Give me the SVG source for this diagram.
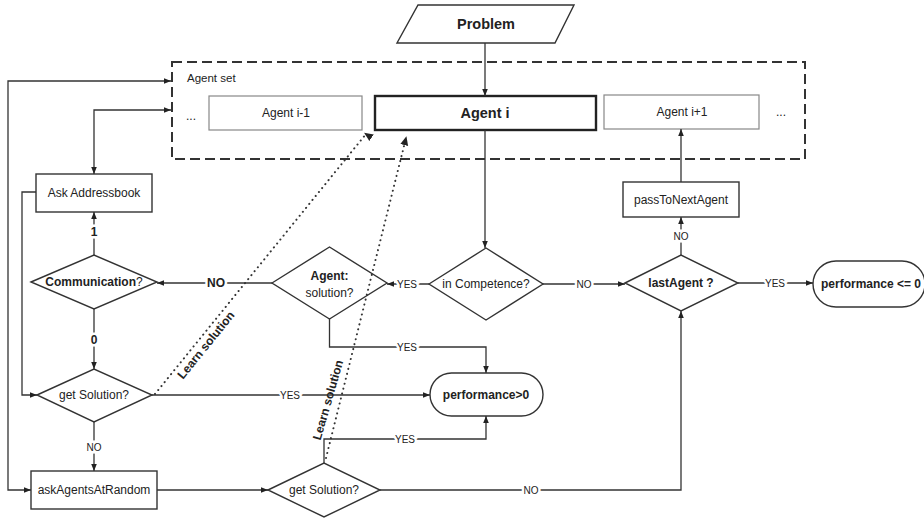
<svg xmlns="http://www.w3.org/2000/svg" width="924" height="518" viewBox="0 0 924 518">
<defs>
<marker id="ah" markerWidth="8" markerHeight="8" refX="7" refY="4" orient="auto-start-reverse" markerUnits="userSpaceOnUse">
<path d="M0,1.2 L7,4 L0,6.8 Z" fill="#222"/>
</marker>
<marker id="ahb" markerWidth="10" markerHeight="10" refX="8.5" refY="5" orient="auto" markerUnits="userSpaceOnUse">
<path d="M0,1 L9,5 L0,9 Z" fill="#222"/>
</marker>
<style>
.s{fill:#fff;stroke:#333;stroke-width:1.4}
.thin{fill:#fff;stroke:#888;stroke-width:1.2}
.bold{fill:#fff;stroke:#222;stroke-width:2.4}
.c{fill:none;stroke:#333;stroke-width:1.3}
.dot{fill:none;stroke:#333;stroke-width:2;stroke-dasharray:0.1 5;stroke-linecap:round}
text{font-family:"Liberation Sans",Arial,sans-serif;fill:#222}
.t{font-size:12px;text-anchor:middle;dominant-baseline:central}
.b{font-weight:bold}
.lbl{font-size:10px;text-anchor:middle;dominant-baseline:central;paint-order:stroke;stroke:#fff;stroke-width:5px}
.lblb{font-size:12px;font-weight:bold;text-anchor:middle;dominant-baseline:central;paint-order:stroke;stroke:#fff;stroke-width:5px}
</style>
</defs>
<g id="agentset">
<rect x="172" y="62" width="633" height="97" fill="none" stroke="#333" stroke-width="2" stroke-dasharray="10 5"/>
<text x="187" y="78" font-size="11.5" fill="#555" dominant-baseline="central">Agent set</text>
<text x="191" y="116" class="t">...</text>
<text x="781" y="112" class="t">...</text>
</g>
<g id="problem">
<polygon class="s" points="418,5 574,5 555,43 397,43"/>
<text x="486" y="24" class="t b" style="font-size:14.5px">Problem</text>
</g>
<g id="agent-im1">
<rect class="thin" x="209" y="96" width="153" height="34"/>
<text x="286" y="113" class="t">Agent i-1</text>
</g>
<g id="agent-i">
<rect class="bold" x="375" y="96" width="221" height="34"/>
<text x="485" y="113" class="t b" style="font-size:14.5px">Agent i</text>
</g>
<g id="agent-ip1">
<rect class="thin" x="604" y="95" width="155" height="34"/>
<text x="682" y="112" class="t">Agent i+1</text>
</g>
<g id="ask-addressbook">
<rect class="s" x="36" y="174" width="116" height="38"/>
<text x="94" y="193" class="t">Ask Addressbook</text>
</g>
<g id="pass-to-next">
<rect class="s" x="623" y="182" width="116" height="35"/>
<text x="681" y="199.5" class="t">passToNextAgent</text>
</g>
<g id="communication">
<polygon class="s" points="31,282 94,255 157,282 94,309"/>
<text x="94" y="282" class="t"><tspan class="b">Communication</tspan>?</text>
</g>
<g id="agent-solution">
<polygon class="s" points="272,283 329.5,247 387,283 329.5,319"/>
<text x="329.5" y="276" class="t b">Agent:</text>
<text x="329.5" y="293" class="t">solution?</text>
</g>
<g id="in-competence">
<polygon class="s" points="429,284 486,248 543,284 486,320"/>
<text x="486" y="284" class="t">in Competence?</text>
</g>
<g id="last-agent">
<polygon class="s" points="625,283 681,255 738,283 681,311"/>
<text x="681" y="283" class="t b">lastAgent ?</text>
</g>
<g id="perf-le0">
<rect class="s" x="813" y="261" width="112" height="46" rx="23"/>
<text x="871" y="284" class="t b">performance &lt;= 0</text>
</g>
<g id="get-solution-1">
<polygon class="s" points="37,395 94,369 152,395 94,422"/>
<text x="94" y="395" class="t">get Solution?</text>
</g>
<g id="perf-gt0">
<rect class="s" x="430" y="373" width="113" height="43" rx="21.5"/>
<text x="486" y="394.5" class="t b">performance&gt;0</text>
</g>
<g id="ask-random">
<rect class="s" x="31" y="471" width="126" height="38"/>
<text x="94" y="490" class="t">askAgentsAtRandom</text>
</g>
<g id="get-solution-2">
<polygon class="s" points="268,490 324,463 380,490 324,517"/>
<text x="324" y="490" class="t">get Solution?</text>
</g>
<g id="connectors">
<path class="c" d="M485,43 V96" marker-end="url(#ah)"/>
<path class="c" d="M485,130 V248" marker-end="url(#ah)"/>
<path class="c" d="M429,284 H387" marker-end="url(#ah)"/>
<path class="c" d="M543,284 H625" marker-end="url(#ah)"/>
<path class="c" d="M738,283 H813" marker-end="url(#ah)"/>
<path class="c" d="M681,255 V217" marker-end="url(#ah)"/>
<path class="c" d="M681,182 V129" marker-end="url(#ah)"/>
<path class="c" d="M272,283 H157" marker-end="url(#ah)"/>
<path class="c" d="M94,255 V212" marker-end="url(#ah)"/>
<path class="c" d="M94,174 V110 H171" marker-start="url(#ah)" marker-end="url(#ah)"/>
<path class="c" d="M36,192 H22 V395 H37" marker-end="url(#ah)"/>
<path class="c" d="M94,309 V369" marker-end="url(#ah)"/>
<path class="c" d="M152,395 H430" marker-end="url(#ah)"/>
<path class="c" d="M94,422 V471" marker-end="url(#ah)"/>
<path class="c" d="M171,81 H8 V490 H31" marker-start="url(#ah)" marker-end="url(#ah)"/>
<path class="c" d="M157,490 H268" marker-end="url(#ah)"/>
<path class="c" d="M324,463 V439 H486 V416" marker-end="url(#ah)"/>
<path class="c" d="M380,490 H681 V311" marker-end="url(#ah)"/>
<path class="c" d="M329.5,319 V347 H486 V373" marker-end="url(#ah)"/>
<path class="dot" d="M155,394 L366,134"/>
<path d="M366,134 l-1.5,-1" fill="none" stroke="none" marker-end="url(#ahb)"/>
<path class="dot" d="M326,458 L406,138"/>
<path d="M406,138 l0.3,-1.2" fill="none" stroke="none" marker-end="url(#ahb)"/>
<text x="407" y="284" class="lbl">YES</text>
<text x="584" y="284" class="lbl">NO</text>
<text x="775" y="283" class="lbl">YES</text>
<text x="681" y="236" class="lbl">NO</text>
<text x="216" y="283" class="lblb">NO</text>
<text x="94" y="232" class="lblb">1</text>
<text x="94" y="340" class="lblb">0</text>
<text x="290" y="395" class="lbl">YES</text>
<text x="94" y="447" class="lbl">NO</text>
<text x="405" y="439" class="lbl">YES</text>
<text x="531" y="490" class="lbl">NO</text>
<text x="407" y="347" class="lbl">YES</text>
<text x="0" y="0" class="t b" transform="translate(206,345) rotate(-51)">Learn solution</text>
<text x="0" y="0" class="t b" transform="translate(328,400) rotate(-74)">Learn solution</text>
</g>
</svg>
